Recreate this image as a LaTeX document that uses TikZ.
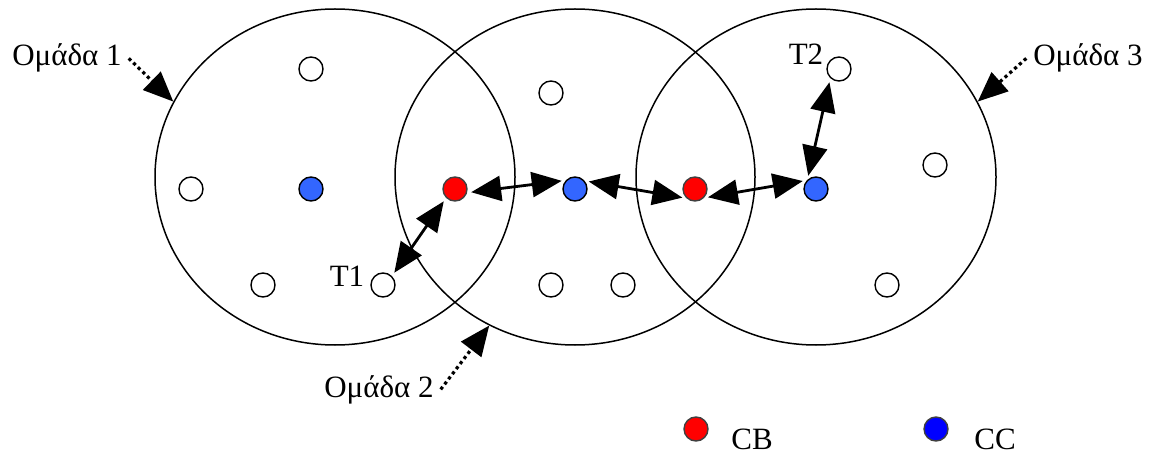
\documentclass[tikz,border=0pt]{standalone}
\usepackage{fontspec}
\setmainfont{Liberation Serif}
\usetikzlibrary{shapes.geometric, arrows.meta}
\definecolor{ccblue}{RGB}{51,102,255}

\begin{document}
\begin{tikzpicture}[x=0.5pt, y=-0.5pt, font=\fontsize{15.5}{18}\selectfont,
    group/.style={draw, ellipse, line width=0.75pt, minimum width=180pt, minimum height=168pt, inner sep=0pt},
    host/.style={draw, circle, line width=0.7pt, fill=white, minimum size=12pt, inner sep=0pt},
    cbhost/.style={host, fill=red, draw=black!75},
    cchost/.style={host, fill=ccblue},
    link/.style={{Triangle[length=15pt,width=12.5pt]}-{Triangle[length=15pt,width=12.5pt]}, line width=1.4pt, shorten <=2pt, shorten >=2pt},
    pointer/.style={-{Triangle[length=15pt,width=12.5pt]}, line width=1.6pt, dash pattern=on 1.6pt off 1.6pt}]
    \useasboundingbox (0,0) rectangle (1150,454);

    % Groups
    \node[group] (g1) at (335,177) {};
    \node[group] (g2) at (575,177) {};
    \node[group] (g3) at (816,177) {};

    % Group 1 hosts
    \node[host] (h1a) at (311,69) {};
    \node[host] (h1b) at (191,189) {};
    \node[cchost] (cc1) at (311,189) {};
    \node[host] (h1c) at (263,285) {};
    \node[host] (t1) at (383,285) {};

    % Group 2 hosts
    \node[cbhost] (cb1) at (455,189) {};
    \node[host] (h2a) at (551,93) {};
    \node[cchost] (cc2) at (575,189) {};
    \node[host] (h2b) at (551,285) {};
    \node[host] (h2c) at (623,285) {};
    \node[cbhost] (cb2) at (695,189) {};

    % Group 3 hosts
    \node[cchost] (cc3) at (816,189) {};
    \node[host] (t2) at (839,69) {};
    \node[host] (h3a) at (935,165) {};
    \node[host] (h3b) at (887,285) {};

    % Labels
    \node[anchor=base] (om1) at (67,66) {Ομάδα 1};
    \node[anchor=base] (om2) at (379,397) {Ομάδα 2};
    \node[anchor=base] (om3) at (1088,66) {Ομάδα 3};
    \node[anchor=base] at (347,286) {T1};
    \node[anchor=base] at (806,65) {T2};

    % Path T1 -> T2
    \draw[link] (t1.45) -- (cb1.-135);
    \draw[link] (cb1.-17) -- (cc2.137);
    \draw[link] (cc2.40) -- (cb2.-133);
    \draw[link] (cb2.-45) -- (cc3.137);
    \draw[link] (cc3.133) -- (t2.-133);

    % Group pointers
    \draw[pointer] (om1.east) -- (g1.155);
    \draw[pointer] (om2.east) -- (g2.-120);
    \draw[pointer] (om3.west) -- (g3.25);

    % Legend
    \node[cbhost] (lcb) at (696,429) {};
    \node[anchor=base] at (752,449) {CB};
    \node[host, fill=blue, draw=black!75] (lcc) at (936,429) {};
    \node[anchor=base] at (995,449) {CC};
\end{tikzpicture}
\end{document}
